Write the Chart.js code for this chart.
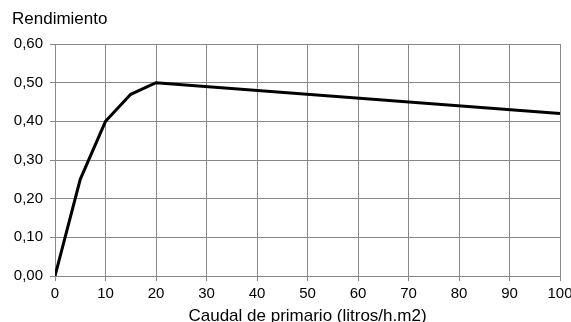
<!DOCTYPE html>
<html><head><meta charset="utf-8">
<script src="https://cdn.jsdelivr.net/npm/chart.js@4.4.1/dist/chart.umd.min.js"></script>
<style>html,body{margin:0;padding:0;background:#fff}#wrap{width:571px;height:322px}</style>
</head><body><div id="wrap"><canvas id="c" width="571" height="322"></canvas></div>
<script>
const caudal = [0, 5, 10, 15, 20, 100];
const rendimiento = [0, 0.25, 0.40, 0.47, 0.50, 0.42];
const xTicks = [0, 10, 20, 30, 40, 50, 60, 70, 80, 90, 100];
const yTicks = [0, 0.1, 0.2, 0.3, 0.4, 0.5, 0.6];
const yTitle = 'Rendimiento';
const xTitle = 'Caudal de primario (litros/h.m2)';

const FONT = "'Liberation Sans', Arial, sans-serif";
new Chart(document.getElementById('c'), {
  type: 'line',
  data: {
    datasets: [{
      data: caudal.map((x, i) => ({x: x, y: rendimiento[i]})),
      borderColor: '#000', borderWidth: 3, pointRadius: 0, tension: 0, fill: false
    }]
  },
  options: {
    responsive: false, animation: false,
    layout: {padding: {left: 12, right: 11, top: 0, bottom: 0}},
    plugins: {
      legend: {display: false}, tooltip: {enabled: false},
      title: {display: true, text: yTitle, align: 'start', color: '#000',
        font: {family: FONT, size: 17, weight: 'normal'}, padding: {top: 9, bottom: 14.6}}
    },
    scales: {
      x: {
        type: 'linear', min: 0, max: 100,
        afterBuildTicks: s => { s.ticks = xTicks.map(v => ({value: v})); },
        afterFit: s => { s.height = 46; s.paddingLeft = 0; s.paddingRight = 0; },
        grid: {color: '#888', lineWidth: 1, tickLength: 5, drawTicks: true},
        border: {color: '#888'},
        ticks: {color: '#000', font: {family: FONT, size: 15}, padding: 4, maxRotation: 0,
          callback: v => String(v)},
        title: {display: true, text: xTitle, color: '#000', font: {family: FONT, size: 17}, padding: {top: 0, bottom: -5}}
      },
      y: {
        min: 0, max: 0.6,
        afterBuildTicks: s => { s.ticks = yTicks.map(v => ({value: v})); },
        afterFit: s => { s.width = 43; s.paddingTop = 0; s.paddingBottom = 0; },
        grid: {color: '#888', lineWidth: 1, tickLength: 5, drawTicks: true},
        border: {color: '#888'},
        ticks: {color: '#000', font: {family: FONT, size: 15}, padding: 7,
          callback: v => Number(v).toFixed(2).replace('.', ',')}
      }
    }
  }
});
</script></body></html>
